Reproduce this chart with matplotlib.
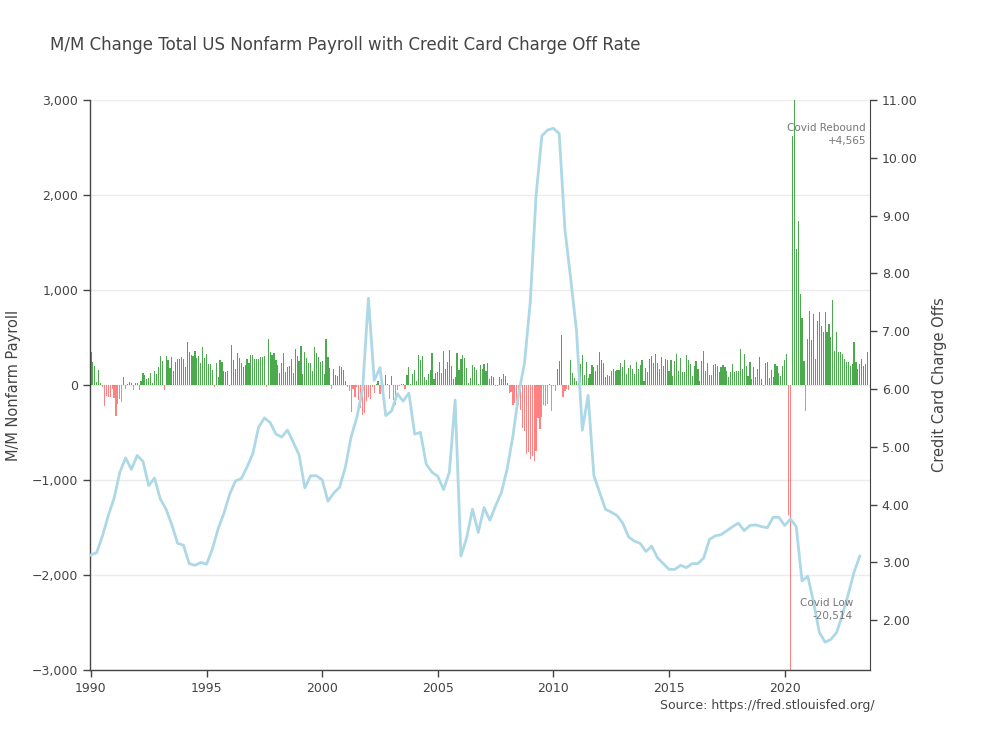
import numpy as np
import matplotlib
matplotlib.use("Agg")
import matplotlib.pyplot as plt
from matplotlib.ticker import FuncFormatter, MultipleLocator

# ---------------- data ----------------
years = list(range(1990, 2024))

payroll_by_year = {
    1990: [343, 238, 203, 30, 157, 20, -20, -217, -120, -130, -130, -45],
    1991: [-140, -322, -200, -150, -182, 80, -45, 15, 30, 25, -50, 25],
    1992: [25, -50, 40, 130, 110, 60, 70, 130, 20, 150, 120, 190],
    1993: [300, 250, -49, 300, 260, 180, 290, 150, 240, 270, 270, 290],
    1994: [270, 190, 450, 350, 320, 300, 360, 280, 310, 230, 400, 280],
    1995: [330, 220, 220, 160, -17, 230, 80, 262, 245, 150, 140, 150],
    1996: [-15, 420, 262, 165, 332, 280, 235, 192, 210, 270, 228, 315],
    1997: [315, 270, 270, 270, 298, 290, 300, -20, 483, 350, 315, 332],
    1998: [262, 210, 130, 228, 332, 140, 192, 200, 270, 122, 375, 300],
    1999: [250, 410, 120, 350, 280, 228, 235, 150, 395, 332, 290, 245],
    2000: [250, 120, 480, 290, 175, -45, 165, 105, 95, 200, 192, 157],
    2001: [40, -20, -60, -280, -40, -130, -20, -160, -240, -320, -290, -170],
    2002: [-130, -150, -20, -80, 10, 45, -90, 5, -60, 110, 10, -150],
    2003: [90, -160, -210, -50, -10, 10, 15, -40, 100, 190, 15, 120],
    2004: [160, 45, 320, 260, 300, 80, 50, 120, 160, 340, 60, 130],
    2005: [135, 240, 130, 360, 170, 245, 370, 195, 67, 84, 334, 157],
    2006: [277, 315, 280, 182, 23, 77, 207, 184, 157, 10, 210, 171],
    2007: [222, 150, 228, 63, 98, 80, -15, -15, 80, 63, 115, 98],
    2008: [17, -84, -78, -210, -185, -165, -209, -266, -452, -481, -729, -705],
    2009: [-784, -743, -800, -695, -345, -468, -340, -213, -221, -200, 8, -269],
    2010: [-14, -59, 164, 253, 530, -122, -59, -42, -55, 264, 124, 70],
    2011: [42, 190, 225, 315, 100, 238, 73, 115, 213, 193, 150, 213],
    2012: [343, 262, 228, 80, 110, 90, 150, 168, 150, 160, 160, 228],
    2013: [185, 263, 115, 175, 210, 168, 115, 238, 168, 210, 263, 45],
    2014: [175, 133, 273, 308, 235, 325, 228, 168, 298, 203, 273, 263],
    2015: [150, 263, 90, 255, 325, 150, 283, 133, 133, 315, 263, 220],
    2016: [98, 203, 255, 168, 38, 255, 353, 143, 231, 108, 108, 210],
    2017: [220, 196, 133, 185, 210, 185, 150, 88, 133, 220, 133, 150],
    2018: [143, 378, 168, 325, 203, 98, 245, 63, 185, 88, 168, 297],
    2019: [63, -15, 228, 238, 73, 158, 88, 220, 203, 122, 98, 200],
    2020: [262, 330, -1373, -20514, 2620, 4565, 1435, 1730, 960, 710, 255, -270],
    2021: [483, 780, 473, 750, 273, 675, 763, 623, 553, 763, 553, 640],
    2022: [500, 893, 360, 553, 343, 343, 325, 273, 238, 238, 203, 220],
    2023: [448, 238, 168, 220, 273, 203, 220, 343],
}

# quarterly credit card charge-off rate, 1990Q1 onward
chargeoff_rate = [
    3.13, 3.17, 3.46, 3.81, 4.11, 4.56, 4.81, 4.61, 4.85, 4.75,
    4.33, 4.46, 4.10, 3.92, 3.65, 3.33, 3.30, 2.98, 2.95, 3.00,
    2.97, 3.23, 3.58, 3.85, 4.18, 4.41, 4.45, 4.65, 4.88, 5.34,
    5.50, 5.42, 5.22, 5.17, 5.29, 5.08, 4.86, 4.29, 4.50, 4.50,
    4.43, 4.06, 4.20, 4.30, 4.64, 5.17, 5.51, 6.00, 7.57, 6.15,
    6.37, 5.54, 5.62, 5.92, 5.79, 5.93, 5.22, 5.25, 4.70, 4.56,
    4.49, 4.26, 4.56, 5.81, 3.11, 3.43, 3.92, 3.52, 3.95, 3.73,
    3.98, 4.21, 4.62, 5.19, 5.92, 6.45, 7.51, 9.35, 10.38, 10.48,
    10.51, 10.42, 8.75, 7.90, 7.00, 5.29, 5.89, 4.50, 4.21, 3.92,
    3.87, 3.81, 3.68, 3.44, 3.37, 3.33, 3.19, 3.28, 3.08, 2.98,
    2.88, 2.88, 2.95, 2.91, 2.98, 2.98, 3.08, 3.40, 3.46, 3.48,
    3.55, 3.62, 3.68, 3.55, 3.64, 3.65, 3.62, 3.60, 3.78, 3.78,
    3.64, 3.75, 3.62, 2.68, 2.76, 2.31, 1.79, 1.62, 1.67, 1.79,
    2.10, 2.45, 2.83, 3.11,
]

# ---------------- build series ----------------
bar_x, bar_y = [], []
for y in years:
    for m, v in enumerate(payroll_by_year[y]):
        bar_x.append(y + m / 12.0)
        bar_y.append(v)
bar_x = np.array(bar_x)
bar_y = np.array(bar_y)
line_x = 1990 + np.arange(len(chargeoff_rate)) / 4.0

# ---------------- figure ----------------
plt.rcParams['font.family'] = ['DejaVu Sans']
fig = plt.figure(figsize=(10, 7.5), dpi=100)
ax = fig.add_axes([0.09, 0.1067, 0.78, 0.76])

pos = bar_y >= 0
ax.bar(bar_x[pos], bar_y[pos], width=0.05, color='#2e9a2e', alpha=0.85,
       linewidth=0, zorder=2)
ax.bar(bar_x[~pos], bar_y[~pos], width=0.05, color='#ff4040', alpha=0.65,
       linewidth=0, zorder=2)

ax.set_xlim(1989.96, 2023.69)
ax.set_ylim(-3000, 3000)
ax.yaxis.set_major_locator(MultipleLocator(1000))
ax.yaxis.set_major_formatter(FuncFormatter(
    lambda v, p: ('\u2212' if v < 0 else '') + f"{abs(int(v)):,}"))
ax.set_xticks(list(range(1990, 2021, 5)))
ax.grid(axis='y', color='#ebebeb', linewidth=1, zorder=0)
ax.set_axisbelow(True)

for s in ['top', 'right']:
    ax.spines[s].set_visible(False)
for s in ['left', 'bottom']:
    ax.spines[s].set_color('#444444')
    ax.spines[s].set_linewidth(1)
ax.tick_params(axis='both', colors='#444444', labelsize=9, length=5,
               width=1, direction='out')
ax.set_ylabel('M/M Nonfarm Payroll', fontsize=10.5, color='#444444',
              labelpad=8)

ax2 = ax.twinx()
ax2.plot(line_x, chargeoff_rate, color='#add8e6', linewidth=2, zorder=3)
ax2.set_ylim(1.14, 11.0)
ax2.set_xlim(1989.96, 2023.69)
ax2.yaxis.set_major_locator(MultipleLocator(1.0))
ax2.yaxis.set_major_formatter(FuncFormatter(lambda v, p: f"{v:.2f}"))
for s in ['top', 'left', 'bottom']:
    ax2.spines[s].set_visible(False)
ax2.spines['right'].set_color('#444444')
ax2.tick_params(axis='y', colors='#444444', labelsize=9, length=5, width=1)
ax2.set_ylabel('Credit Card Charge Offs', fontsize=10.5, color='#444444',
               labelpad=10)

fig.text(0.05, 1 - 45 / 750, 'M/M Change Total US Nonfarm Payroll with Credit Card Charge Off Rate',
         fontsize=12, color='#444444', ha='left', va='center')
fig.text(0.866, 1 - 128 / 750, 'Covid Rebound', fontsize=7.5, color='#777777',
         ha='right', va='center')
fig.text(0.866, 1 - 141 / 750, '+4,565', fontsize=7.5, color='#777777',
         ha='right', va='center')
fig.text(0.853, 1 - 603 / 750, 'Covid Low', fontsize=7.5, color='#777777',
         ha='right', va='center')
fig.text(0.853, 1 - 616 / 750, '-20,514', fontsize=7.5, color='#777777',
         ha='right', va='center')
fig.text(0.875, 1 - 706 / 750, 'Source: https://fred.stlouisfed.org/',
         fontsize=9, color='#444444', ha='right', va='center')

fig.savefig('out.png', dpi=100)
